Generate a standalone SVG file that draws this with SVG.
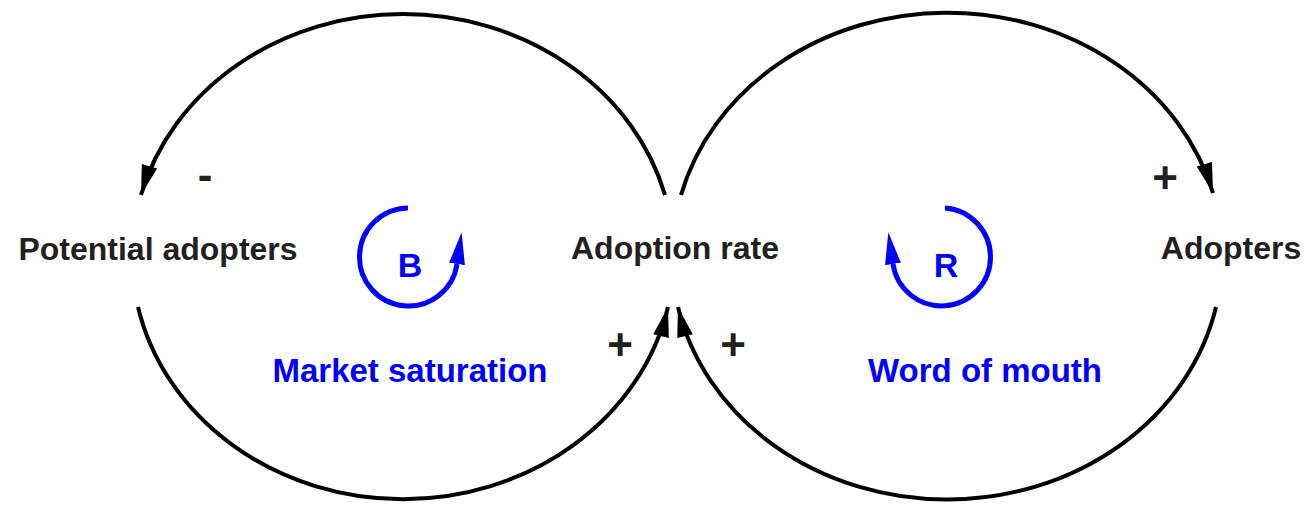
<svg xmlns="http://www.w3.org/2000/svg" width="1304" height="513" viewBox="0 0 1304 513">
<style>
.lbl{font-family:"Liberation Sans",Arial,sans-serif;font-weight:bold;font-size:32px;fill:#231f20;text-anchor:middle}
.loop{font-family:"Liberation Sans",Arial,sans-serif;font-weight:bold;font-size:33px;fill:#0000ff;text-anchor:middle}
.sign{font-family:"Liberation Sans",Arial,sans-serif;font-weight:bold;font-size:44px;fill:#231f20;text-anchor:middle}
.link{fill:none;stroke:#000;stroke-width:4;marker-end:url(#ah)}
.cyc{fill:none;stroke:#0000ff;stroke-width:5;marker-end:url(#bh)}
</style>
<defs>
<marker id="ah" markerUnits="userSpaceOnUse" markerWidth="34" markerHeight="20" viewBox="-32 -10 34 20" refX="0" refY="0" orient="auto">
<path d="M-30,-8 L0,0 L-30,8 z" fill="#000"/>
</marker>
<marker id="bh" markerUnits="userSpaceOnUse" markerWidth="34" markerHeight="20" viewBox="0 -10 34 20" refX="0" refY="0" orient="auto">
<path d="M0,-8 L32,0 L0,8 z" fill="#0000ff"/>
</marker>
</defs>
<g id="connectors">
<path class="link" d="M665,195 A271,243 0 0 0 141,195"/>
<path class="link" d="M138,307 A271,243 0 0 0 668,307"/>
<path class="link" d="M681,195 A275,243 0 0 1 1213,193"/>
<path class="link" d="M1216,307 A275,243 0 0 1 678,307"/>
</g>
<g id="potential-adopters"><text class="lbl" x="158" y="260">Potential adopters</text></g>
<g id="adoption-rate"><text class="lbl" x="675" y="259">Adoption rate</text></g>
<g id="adopters"><text class="lbl" x="1231" y="259">Adopters</text></g>
<g id="loop-B">
<path class="cyc" d="M408,208 A49,49 0 1 0 457,264"/>
<text class="loop" x="410" y="277" style="font-size:34px">B</text>
<text class="loop" x="410" y="382">Market saturation</text>
</g>
<g id="loop-R">
<path class="cyc" d="M945,208 A49,49 0 1 1 893,264"/>
<text class="loop" x="946" y="277" style="font-size:34px">R</text>
<text class="loop" x="985" y="382">Word of mouth</text>
</g>
<g id="polarities">
<text class="sign" x="205" y="190">-</text>
<text class="sign" x="620" y="360">+</text>
<text class="sign" x="733" y="360">+</text>
<text class="sign" x="1165" y="193">+</text>
</g>
</svg>
